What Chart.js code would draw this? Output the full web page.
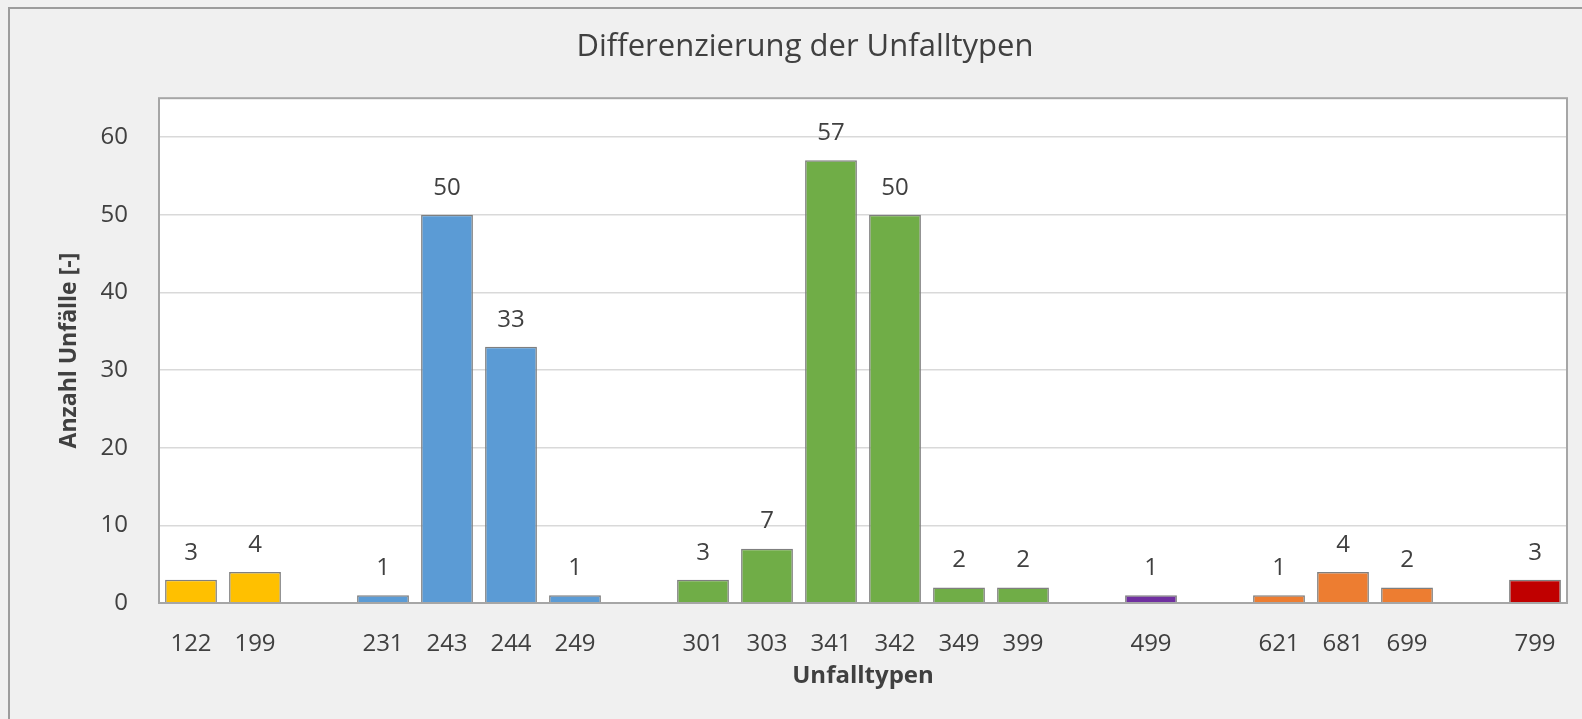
<!DOCTYPE html>
<html>
<head>
<meta charset="utf-8">
<script src="https://cdn.jsdelivr.net/npm/chart.js@4"></script>
<style>
    html, body { margin: 0; padding: 0; background: #f0f0f0; overflow: hidden; }
    #frame {
        position: absolute; left: 8px; top: 7px;
        width: 1590px; height: 710px;
        border-left: 2px solid #9c9c9c; border-top: 2px solid #9c9c9c;
        background: #f0f0f0;
    }
    canvas { display: block; }
</style>
</head>
<body>
<div id="frame"><canvas id="chart" width="1590" height="710"></canvas></div>
<script>
// empty strings are the gaps between the groups
const categories = ['122', '199', '', '231', '243', '244', '249', '', '301', '303', '341', '342', '349', '399', '', '499', '', '621', '681', '699', '', '799'];
const accidents = [3, 4, null, 1, 50, 33, 1, null, 3, 7, 57, 50, 2, 2, null, 1, null, 1, 4, 2, null, 3];
const yTicks = [0, 10, 20, 30, 40, 50, 60];

const groupColors = { '1': '#ffc000', '2': '#5b9bd5', '3': '#70ad47', '4': '#7030a0', '6': '#ed7d31', '7': '#c00000' };
const FONT = "'Open Sans', 'DejaVu Sans', sans-serif";

const plotFrame = {
    id: 'plotFrame',
    beforeDatasetsDraw(chart) {
        const { ctx, chartArea: a } = chart;
        ctx.save();
        ctx.fillStyle = '#ffffff';
        ctx.fillRect(a.left, a.top, a.right - a.left, a.bottom - a.top);
        ctx.restore();
        // redraw grid on top of white fill
        chart.scales.y.drawGrid(a);
    },
    afterDatasetsDraw(chart) {
        const { ctx, chartArea: a } = chart;
        ctx.save();
        ctx.strokeStyle = '#a6a6a6';
        ctx.lineWidth = 2;
        ctx.strokeRect(a.left, a.top, a.right - a.left, a.bottom - a.top);

        // value labels above bars
        ctx.fillStyle = '#404040';
        ctx.font = '24px ' + FONT;
        ctx.textAlign = 'center';
        ctx.textBaseline = 'middle';
        chart.getDatasetMeta(0).data.forEach((bar, i) => {
            const v = accidents[i];
            if (v === null) return;
            ctx.fillText(String(v), bar.x, bar.y - 27);
        });
        ctx.restore();
    }
};

new Chart(document.getElementById('chart'), {
    type: 'bar',
    data: {
        labels: categories,
        datasets: [{
            data: accidents,
            backgroundColor: categories.map(c => groupColors[c.charAt(0)] || '#cccccc'),
            borderColor: '#7f7f7f',
            borderWidth: 1.5,
            categoryPercentage: 0.81,
            barPercentage: 1
        }]
    },
    options: {
        responsive: false,
        animation: false,
        layout: { padding: { left: 33, right: 33, top: 0, bottom: 0 } },
        plugins: {
            legend: { display: false },
            tooltip: { enabled: false },
            title: {
                display: true,
                text: 'Differenzierung der Unfalltypen',
                color: '#404040',
                font: { family: FONT, size: 31, weight: 'normal' },
                padding: { top: 20, bottom: 32 }
            }
        },
        scales: {
            x: {
                grid: { display: false },
                border: { display: false },
                ticks: { color: '#404040', font: { family: FONT, size: 24 }, padding: 19, autoSkip: false, maxRotation: 0 },
                title: {
                    display: true,
                    text: 'Unfalltypen',
                    color: '#404040',
                    font: { family: FONT, size: 24, weight: 'bold' },
                    padding: { top: 0, bottom: 28 }
                },
                afterFit: s => { s.height = 116; }
            },
            y: {
                min: 0,
                max: 65,
                grid: { color: '#d9d9d9', lineWidth: 1.5, drawTicks: false },
                border: { display: false },
                ticks: { stepSize: 10, color: '#404040', font: { family: FONT, size: 24 }, padding: 31 },
                afterBuildTicks: s => { s.ticks = yTicks.map(v => ({ value: v })); },
                title: {
                    display: true,
                    text: 'Anzahl Unfälle [-]',
                    color: '#404040',
                    font: { family: FONT, size: 23, weight: 'bold' },
                    padding: { top: 13, bottom: 0 }
                },
                afterFit: s => { s.width = 116; }
            }
        }
    },
    plugins: [plotFrame]
});
</script>
</body>
</html>
